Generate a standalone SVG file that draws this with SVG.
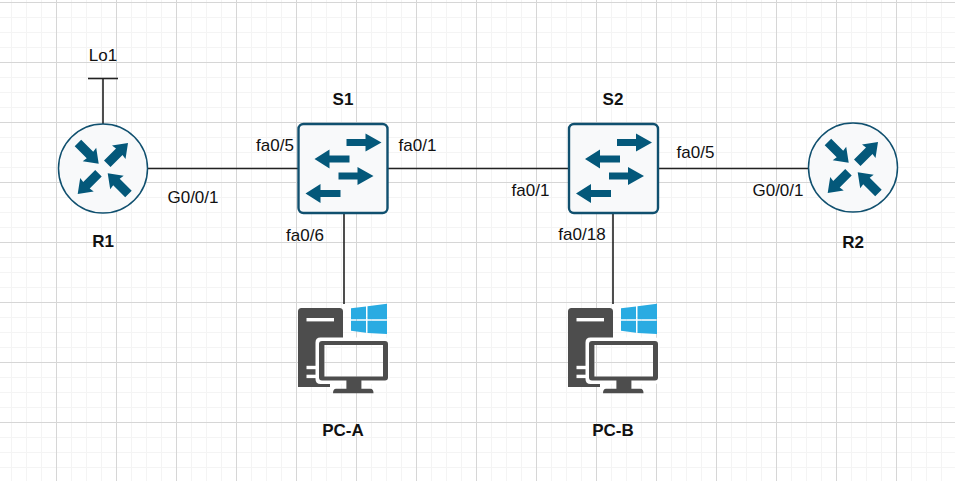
<svg xmlns="http://www.w3.org/2000/svg" xmlns:xlink="http://www.w3.org/1999/xlink" width="955" height="481" viewBox="0 0 955 481">
<style>
text{font-family:"Liberation Sans",Arial,sans-serif;font-size:17px;fill:#111;text-anchor:middle}
.b{font-weight:bold}
.c{stroke:#222;stroke-width:1.6;fill:none}
.ci{fill:#f8f9fa;stroke:#10506f;stroke-width:1.5}
.sw{fill:#f8f9fa;stroke:#10506f;stroke-width:2.4}
.ar{fill:#04587a}
.pc{fill:#4d4d4d}
.win{fill:#29abe2}
</style>
<defs>
<pattern id="g" x="11" y="2" width="60" height="60" patternUnits="userSpaceOnUse">
<path d="M0.5 0V60M15.5 0V60M30.5 0V60M45.5 0V60M0 .5H60M0 15.5H60M0 30.5H60M0 45.5H60" stroke="#f4f4f4" stroke-width="1" fill="none"/>
<path d="M45.5 0V60M0 .5H60" stroke="#d6d6d6" stroke-width="1" fill="none"/>
</pattern>
<path id="a" class="ar" d="M-17.500 -24L-24 -17.500L-12 -5.500L-16 -2.500L0 0L-2.500 -16L-5.500 -12Z"/>
<g id="ra">
<use xlink:href="#a" href="#a" transform="translate(-4.300 -4.800)"/>
<use xlink:href="#a" href="#a" transform="translate(25 -25.500) rotate(-90)"/>
<use xlink:href="#a" href="#a" transform="translate(-25.300 25.500) rotate(90)"/>
<use xlink:href="#a" href="#a" transform="translate(4.700 4.800) rotate(180)"/>
</g>
<g id="router">
<circle class="ci" cx="0" cy="0" r="44.500"/>
</g>
<g id="switch">
<rect class="sw" x="0" y="0" width="89" height="89" rx="5"/>
<path class="ar" d="M48 15H67V9.500L83 18.500L67 27.500V22H48Z"/>
<path class="ar" d="M51 31.500H31V25.500L16 35L31 44.500V38.500H51Z"/>
<path class="ar" d="M40 48.500H59V43L75 52L59 61V55.500H40Z"/>
<path class="ar" d="M42 66H22V60L7 69.500L22 79V73H42Z"/>
</g>
<g id="pc">
<path class="pc" d="M0 79V3.500Q0 0 3.500 0H41.500Q45 0 45 3.500V30H25V76H32V79Z"/>
<rect x="8.500" y="10" width="27.500" height="3.400" fill="#fff"/>
<rect x="8.500" y="57.800" width="9.500" height="3.400" fill="#fff"/>
<rect x="8.500" y="66.700" width="9.500" height="3.400" fill="#fff"/>
<path class="win" d="M53 .3L68 -1.500V11.300H53ZM69.500 -1.700L89 -4.300V11.300H69.500ZM53 12.700H68V24.700L53 22.700ZM69.500 12.700H89V26L69.500 24.900Z"/>
<path fill="#fff" fill-rule="evenodd" d="M22.500 29.500H86.500Q91.500 29.500 91.500 34.500V71Q91.500 76 86.500 76H22.500Q17.500 76 17.500 71V34.500Q17.500 29.500 22.500 29.500ZM26.400 37V68.500H85V37Z"/>
<path class="pc" fill-rule="evenodd" d="M24 33H87Q90 33 90 36V69.500Q90 72.500 87 72.500H24Q21 72.500 21 69.500V36Q21 33 24 33ZM26.400 37V68.500H85V37Z"/>
<path class="pc" d="M48.400 72H63.400V80.800H72.500Q75.500 81 75.500 85.300H35Q35 81 38 80.800H48.400Z"/>
</g>
</defs>
<rect width="955" height="481" fill="#fff"/>
<rect width="955" height="481" fill="url(#g)"/>
<g id="connectors">
<path class="c" d="M148 168.500H298"/>
<path class="c" d="M388 168.500H569"/>
<path class="c" d="M658 168.500H808"/>
<path class="c" d="M344 213V304"/>
<path class="c" d="M613 213V304"/>
<path class="c" d="M103 124V79"/>
<path class="c" d="M88 78.500H118"/>
</g>
<g id="Lo1"><text x="103" y="61">Lo1</text></g>
<g id="R1"><use xlink:href="#router" href="#router" x="103" y="168.500"/><use xlink:href="#ra" href="#ra" x="103" y="168.500"/><text class="b" x="103" y="247">R1</text></g>
<g id="R2"><use xlink:href="#router" href="#router" x="853" y="167.500"/><use xlink:href="#ra" href="#ra" x="853" y="167.500"/><text class="b" x="853" y="248">R2</text></g>
<g id="S1"><use xlink:href="#switch" href="#switch" x="298.500" y="124"/><text class="b" x="343" y="105">S1</text></g>
<g id="S2"><use xlink:href="#switch" href="#switch" x="569" y="124"/><text class="b" x="613" y="105">S2</text></g>
<g id="PC-A"><use xlink:href="#pc" href="#pc" x="298" y="308"/><text class="b" x="343" y="436">PC-A</text></g>
<g id="PC-B"><use xlink:href="#pc" href="#pc" x="568" y="308"/><text class="b" x="613" y="436">PC-B</text></g>
<g id="labels">
<text x="275" y="151">fa0/5</text>
<text x="193" y="203">G0/0/1</text>
<text x="305" y="241">fa0/6</text>
<text x="417.500" y="151">fa0/1</text>
<text x="530.500" y="196">fa0/1</text>
<text x="582" y="240">fa0/18</text>
<text x="695.500" y="158">fa0/5</text>
<text x="778" y="196">G0/0/1</text>
</g>
</svg>
